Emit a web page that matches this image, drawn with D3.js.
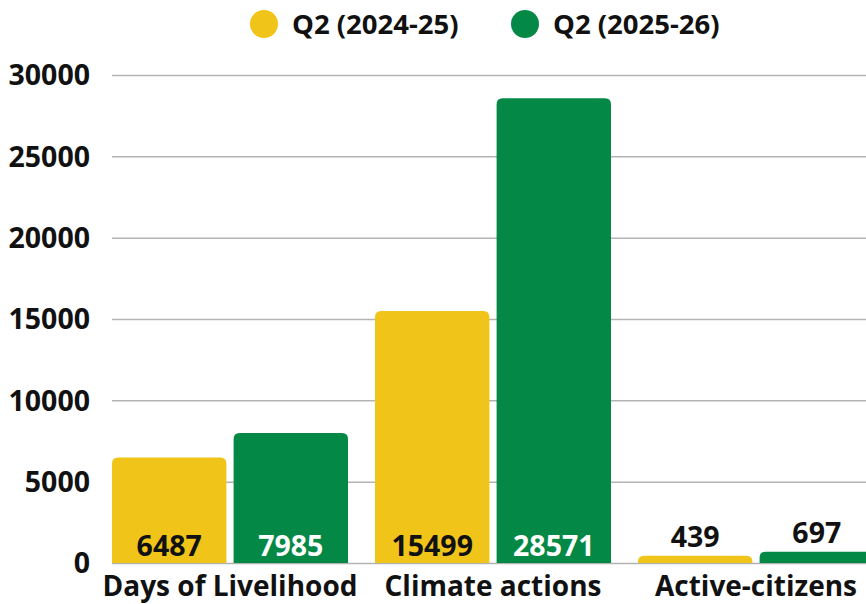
<!DOCTYPE html>
<html lang="en">
<head>
  <meta charset="UTF-8">
  <title>Q2 comparison</title>
  <script src="https://cdn.jsdelivr.net/npm/d3@7"></script>
  <style>
  body { margin: 0; background: #fff; }
  svg text {
    font-family: "Open Sans", "Noto Sans", sans-serif;
    font-weight: 700;
    fill: #111;
  }
  .grid line { stroke: #b3b3b3; stroke-width: 1.5; }
  .grid path { display: none; }
  </style>
</head>
<body>
  <svg id="chart" width="866" height="604"></svg>
  <script>
  // Chart data
  const categories = ['Days of Livelihood', 'Climate actions', 'Active-citizens'];
  const seriesNames = ['Q2 (2024-25)', 'Q2 (2025-26)'];
  const seriesColors = ['#F0C419', '#038945'];
  const q2_2024 = [6487, 15499, 439];
  const q2_2025 = [7985, 28571, 697];
  const yTicks = [0, 5000, 10000, 15000, 20000, 25000, 30000];

  const rows = categories.map((c, i) => ({
    cat: c,
    vals: [q2_2024[i], q2_2025[i]]
  }));

  const svg = d3.select('#chart');
  const plotLeft = 112, plotTop = 75, plotBottom = 563;

  const y = d3.scaleLinear().domain([0, 30000]).range([plotBottom, plotTop]);

  // group band: step 263, band 236, first band at x=112
  const x0 = d3.scaleBand()
    .domain(categories)
    .range([plotLeft - 13.5, plotLeft - 13.5 + 263 * 3])
    .paddingInner(27 / 263)
    .paddingOuter(27 / 263 / 2);
  const x1 = d3.scaleBand()
    .domain([0, 1])
    .range([0, x0.bandwidth()])
    .paddingInner(7 / 118);

  // gridlines
  svg.append('g')
    .attr('class', 'grid')
    .attr('transform', `translate(${plotLeft},0)`)
    .call(d3.axisLeft(y).tickValues(yTicks).tickSize(-(866 - plotLeft)).tickFormat(''));

  // y labels
  svg.append('g')
    .selectAll('text')
    .data(yTicks)
    .join('text')
      .attr('x', 90)
      .attr('y', d => y(d))
      .attr('dy', '0.36em')
      .attr('text-anchor', 'end')
      .attr('font-size', 28.5)
      .text(d => d);

  // rounded-top bar path
  const barPath = (x, yTop, w, h, r) => {
    r = Math.min(r, h, w / 2);
    return `M${x},${yTop + h}V${yTop + r}Q${x},${yTop} ${x + r},${yTop}` +
      `H${x + w - r}Q${x + w},${yTop} ${x + w},${yTop + r}V${yTop + h}Z`;
  };

  const groups = svg.append('g')
    .selectAll('g')
    .data(rows)
    .join('g')
      .attr('transform', d => `translate(${x0(d.cat)},0)`);

  groups.selectAll('path')
    .data(d => d.vals.map((v, i) => ({ v, i })))
    .join('path')
      .attr('fill', d => seriesColors[d.i])
      .attr('d', d => barPath(x1(d.i), y(d.v), x1.bandwidth(), plotBottom - y(d.v), 6));

  // value labels
  const inside = d => plotBottom - y(d.v) > 40;
  groups.selectAll('text.val')
    .data(d => d.vals.map((v, i) => ({ v, i })))
    .join('text')
      .attr('class', 'val')
      .attr('x', d => x1(d.i) + x1.bandwidth() / 2)
      .attr('y', d => inside(d) ? plotBottom - 7 : y(d.v) - 9)
      .attr('text-anchor', 'middle')
      .attr('font-size', 28.5)
      .style('fill', d => (inside(d) && d.i === 1) ? '#fff' : '#111')
      .text(d => d.v);

  // category labels
  svg.append('g')
    .selectAll('text')
    .data(categories)
    .join('text')
      .attr('x', d => x0(d) + x0.bandwidth() / 2)
      .attr('y', 596)
      .attr('text-anchor', 'middle')
      .attr('font-size', 28)
      .text(d => d);

  // legend
  const legendX = [264, 525];
  const legend = svg.append('g')
    .selectAll('g')
    .data(seriesNames)
    .join('g')
      .attr('transform', (d, i) => `translate(${legendX[i]},24)`);
  legend.append('circle')
    .attr('r', 14)
    .attr('fill', (d, i) => seriesColors[i]);
  legend.append('text')
    .attr('x', 28)
    .attr('dy', '0.36em')
    .attr('font-size', 27.5)
    .text(d => d);
  </script>
</body>
</html>
